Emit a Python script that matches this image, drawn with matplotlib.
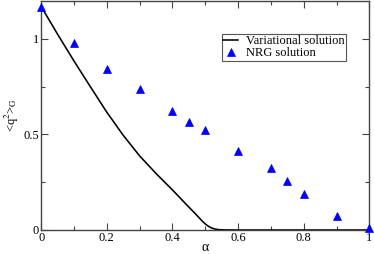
import numpy as np
import matplotlib
matplotlib.use("Agg")
import matplotlib.pyplot as plt
from matplotlib.ticker import MultipleLocator, FuncFormatter

# Variational solution (black line)
alpha_var = [0.0, 0.05, 0.1, 0.15, 0.2, 0.25, 0.3, 0.35, 0.4, 0.45, 0.47,
             0.49, 0.5, 0.51, 0.52, 0.53, 0.54, 0.56, 0.6, 0.7, 0.8, 0.9, 1.0]
q2_var = [1.17, 1.025, 0.885, 0.75, 0.617, 0.496, 0.388, 0.296, 0.21, 0.12, 0.085,
          0.048, 0.032, 0.019, 0.01, 0.005, 0.002, 0.0005, 0.0, 0.0, 0.0, 0.0, 0.0]

# NRG solution (blue triangles)
alpha_nrg = [0.0, 0.1, 0.2, 0.3, 0.4, 0.45, 0.5, 0.6, 0.7, 0.75, 0.8, 0.9, 1.0]
q2_nrg = [1.165, 0.98, 0.843, 0.738, 0.621, 0.566, 0.524, 0.416, 0.323, 0.259,
          0.19, 0.073, 0.009]

plt.rcParams['font.family'] = ['Liberation Serif', 'DejaVu Serif']
plt.rcParams['mathtext.fontset'] = 'stix'

fig = plt.figure(figsize=(3.74, 2.54), dpi=100)
ax = fig.add_axes([0.110, 0.0945, 0.8775, 0.9025])

ax.plot(alpha_var, q2_var, color='black', lw=1.15, label='Variational solution')
ax.plot(alpha_nrg, q2_nrg, ls='none', marker='^', ms=5.5, mew=0.5, color='#0000ff',
        mec='#0000ff', label='NRG solution', clip_on=False, zorder=3)

ax.set_xlim(0, 1)
ax.set_ylim(0, 1.2)
ax.xaxis.set_major_locator(MultipleLocator(0.2))
ax.xaxis.set_minor_locator(MultipleLocator(0.1))
ax.yaxis.set_major_locator(MultipleLocator(0.5))
ax.yaxis.set_minor_locator(MultipleLocator(0.25))
ax.xaxis.set_major_formatter(FuncFormatter(lambda v, p: '%g' % v))
ax.yaxis.set_major_formatter(FuncFormatter(lambda v, p: '%g' % v))

ax.tick_params(which='both', direction='in', top=True, right=True,
               labelsize=9, color='#444444', pad=1.5)
ax.tick_params(which='major', length=5, width=0.8)
ax.tick_params(which='minor', length=3, width=0.8)
for s in ax.spines.values():
    s.set_color('#444444')
    s.set_linewidth(1.0)

ax.set_xlabel('α', fontsize=10, labelpad=-2.5)
ax.set_ylabel(r'<q$^2$>$_{\rm G}$', fontsize=9, labelpad=2)

leg = ax.legend(loc='upper left', bbox_to_anchor=(0.551, 0.857),
                borderaxespad=0, fancybox=False, framealpha=1,
                edgecolor='#555555', fontsize=9, borderpad=0.12,
                labelspacing=0.0, handletextpad=0.6, handlelength=1.2,
                handleheight=0.6)
leg.get_frame().set_linewidth(0.8)

fig.savefig('out.png', dpi=100)
